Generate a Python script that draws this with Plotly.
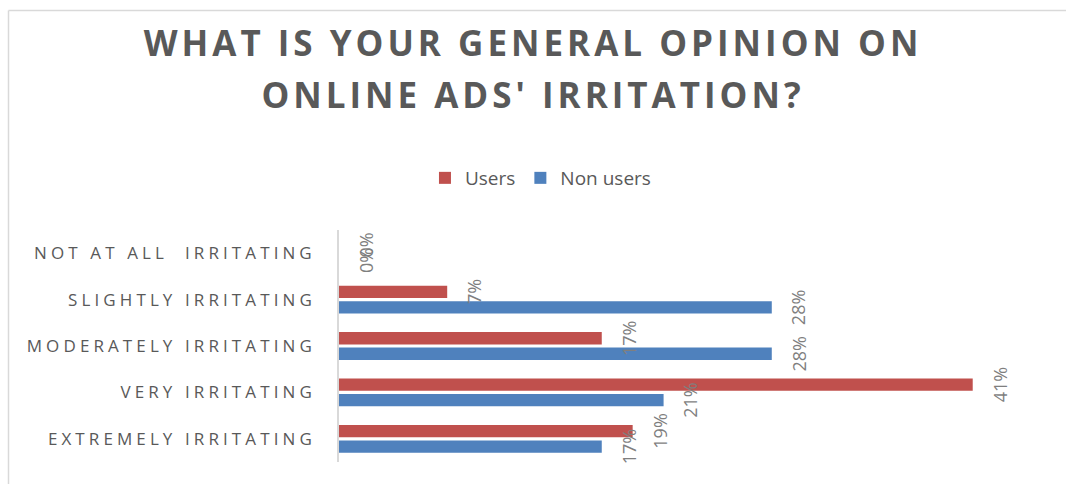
import plotly.graph_objects as go

# Survey answers, top to bottom on the chart
categories = [
    "NOT AT ALL\u00a0 IRRITATING",
    "SLIGHTLY IRRITATING",
    "MODERATELY IRRITATING",
    "VERY IRRITATING",
    "EXTREMELY IRRITATING",
]
users = [0, 7, 17, 41, 19]        # % of ad-blocker users
non_users = [0, 28, 28, 21, 17]   # % of non users

title_lines = ["WHAT IS YOUR GENERAL OPINION ON", "ONLINE ADS' IRRITATION?"]

RED = "#C0504D"
BLUE = "#4F81BD"
GREY_TEXT = "#595959"
LABEL_GREY = "#7F7F7F"
FRAME = "#D9D9D9"
FONT = "Open Sans"

W, H = 1066, 484
M = dict(l=339, r=16, t=230, b=22, autoexpand=False)
X_MAX = 46

BAR_W = 0.265
series = [
    ("Users", users, RED, -0.30),
    ("Non users", non_users, BLUE, 0.035),
]

pos = list(range(len(categories)))

fig = go.Figure()
annotations = []
for name, vals, color, off in series:
    fig.add_trace(go.Bar(
        name=name, orientation="h", x=vals, y=pos,
        offset=off, width=BAR_W,
        marker=dict(color=color, line=dict(width=0)),
        hoverinfo="x+name",
    ))
    center = off + BAR_W / 2
    for p, v in zip(pos, vals):
        annotations.append(dict(
            x=v, y=p + center, xref="x", yref="y",
            text=f"{v}%", textangle=-90, showarrow=False,
            xanchor="center", yanchor="middle", xshift=27,
            font=dict(family=FONT, size=18, color=LABEL_GREY),
        ))

# outer chart frame (left and top edges visible)
plot_w = W - M["l"] - M["r"]
plot_h = H - M["t"] - M["b"]
def px_x(px):
    return (px - M["l"]) / plot_w
def px_y(py):
    return (H - M["b"] - py) / plot_h

shapes = [
    dict(type="line", xref="paper", yref="paper",
         x0=px_x(8.5), x1=px_x(8.5), y0=px_y(10.5), y1=px_y(500),
         line=dict(color=FRAME, width=1.5)),
    dict(type="line", xref="paper", yref="paper",
         x0=px_x(8.5), x1=px_x(1080), y0=px_y(10.5), y1=px_y(10.5),
         line=dict(color=FRAME, width=1.5)),
]

title_html = "<br>".join(
    f"<span style='font-size:35px'>{t}</span>" for t in title_lines
)

fig.update_layout(
    width=W, height=H, margin=M,
    paper_bgcolor="white", plot_bgcolor="white",
    barmode="overlay",
    showlegend=True,
    title=dict(
        text=title_html, x=0.5, xref="container", xanchor="center",
        y=1 - 56 / H, yref="container", yanchor="top",
        font=dict(family=FONT, size=40, color=GREY_TEXT, weight="bold"),
    ),
    legend=dict(
        orientation="h", xref="container", x=0.507, xanchor="center",
        yref="paper", y=px_y(178), yanchor="middle",
        font=dict(family=FONT, size=19, color=GREY_TEXT),
        bgcolor="rgba(0,0,0,0)",
    ),
    xaxis=dict(range=[0, X_MAX], visible=False, fixedrange=True),
    yaxis=dict(
        tickvals=pos, ticktext=categories,
        range=[len(categories) - 0.5, -0.5],
        showline=True, linecolor=FRAME, linewidth=1.5,
        showgrid=False, zeroline=False, ticks="",
        ticklabelstandoff=18,
        tickfont=dict(family=FONT, size=17, color=GREY_TEXT),
        automargin=False, fixedrange=True,
    ),
    annotations=annotations,
    shapes=shapes,
)

# spaced-out capitals for the title and category labels
spacing_css = (
    "var s=document.createElement('style');"
    "s.textContent='.ytick text{letter-spacing:4.1px}"
    ".gtitle{letter-spacing:4px}';"
    "document.head.appendChild(s);"
)

fig.write_html("out.html", post_script=spacing_css)
